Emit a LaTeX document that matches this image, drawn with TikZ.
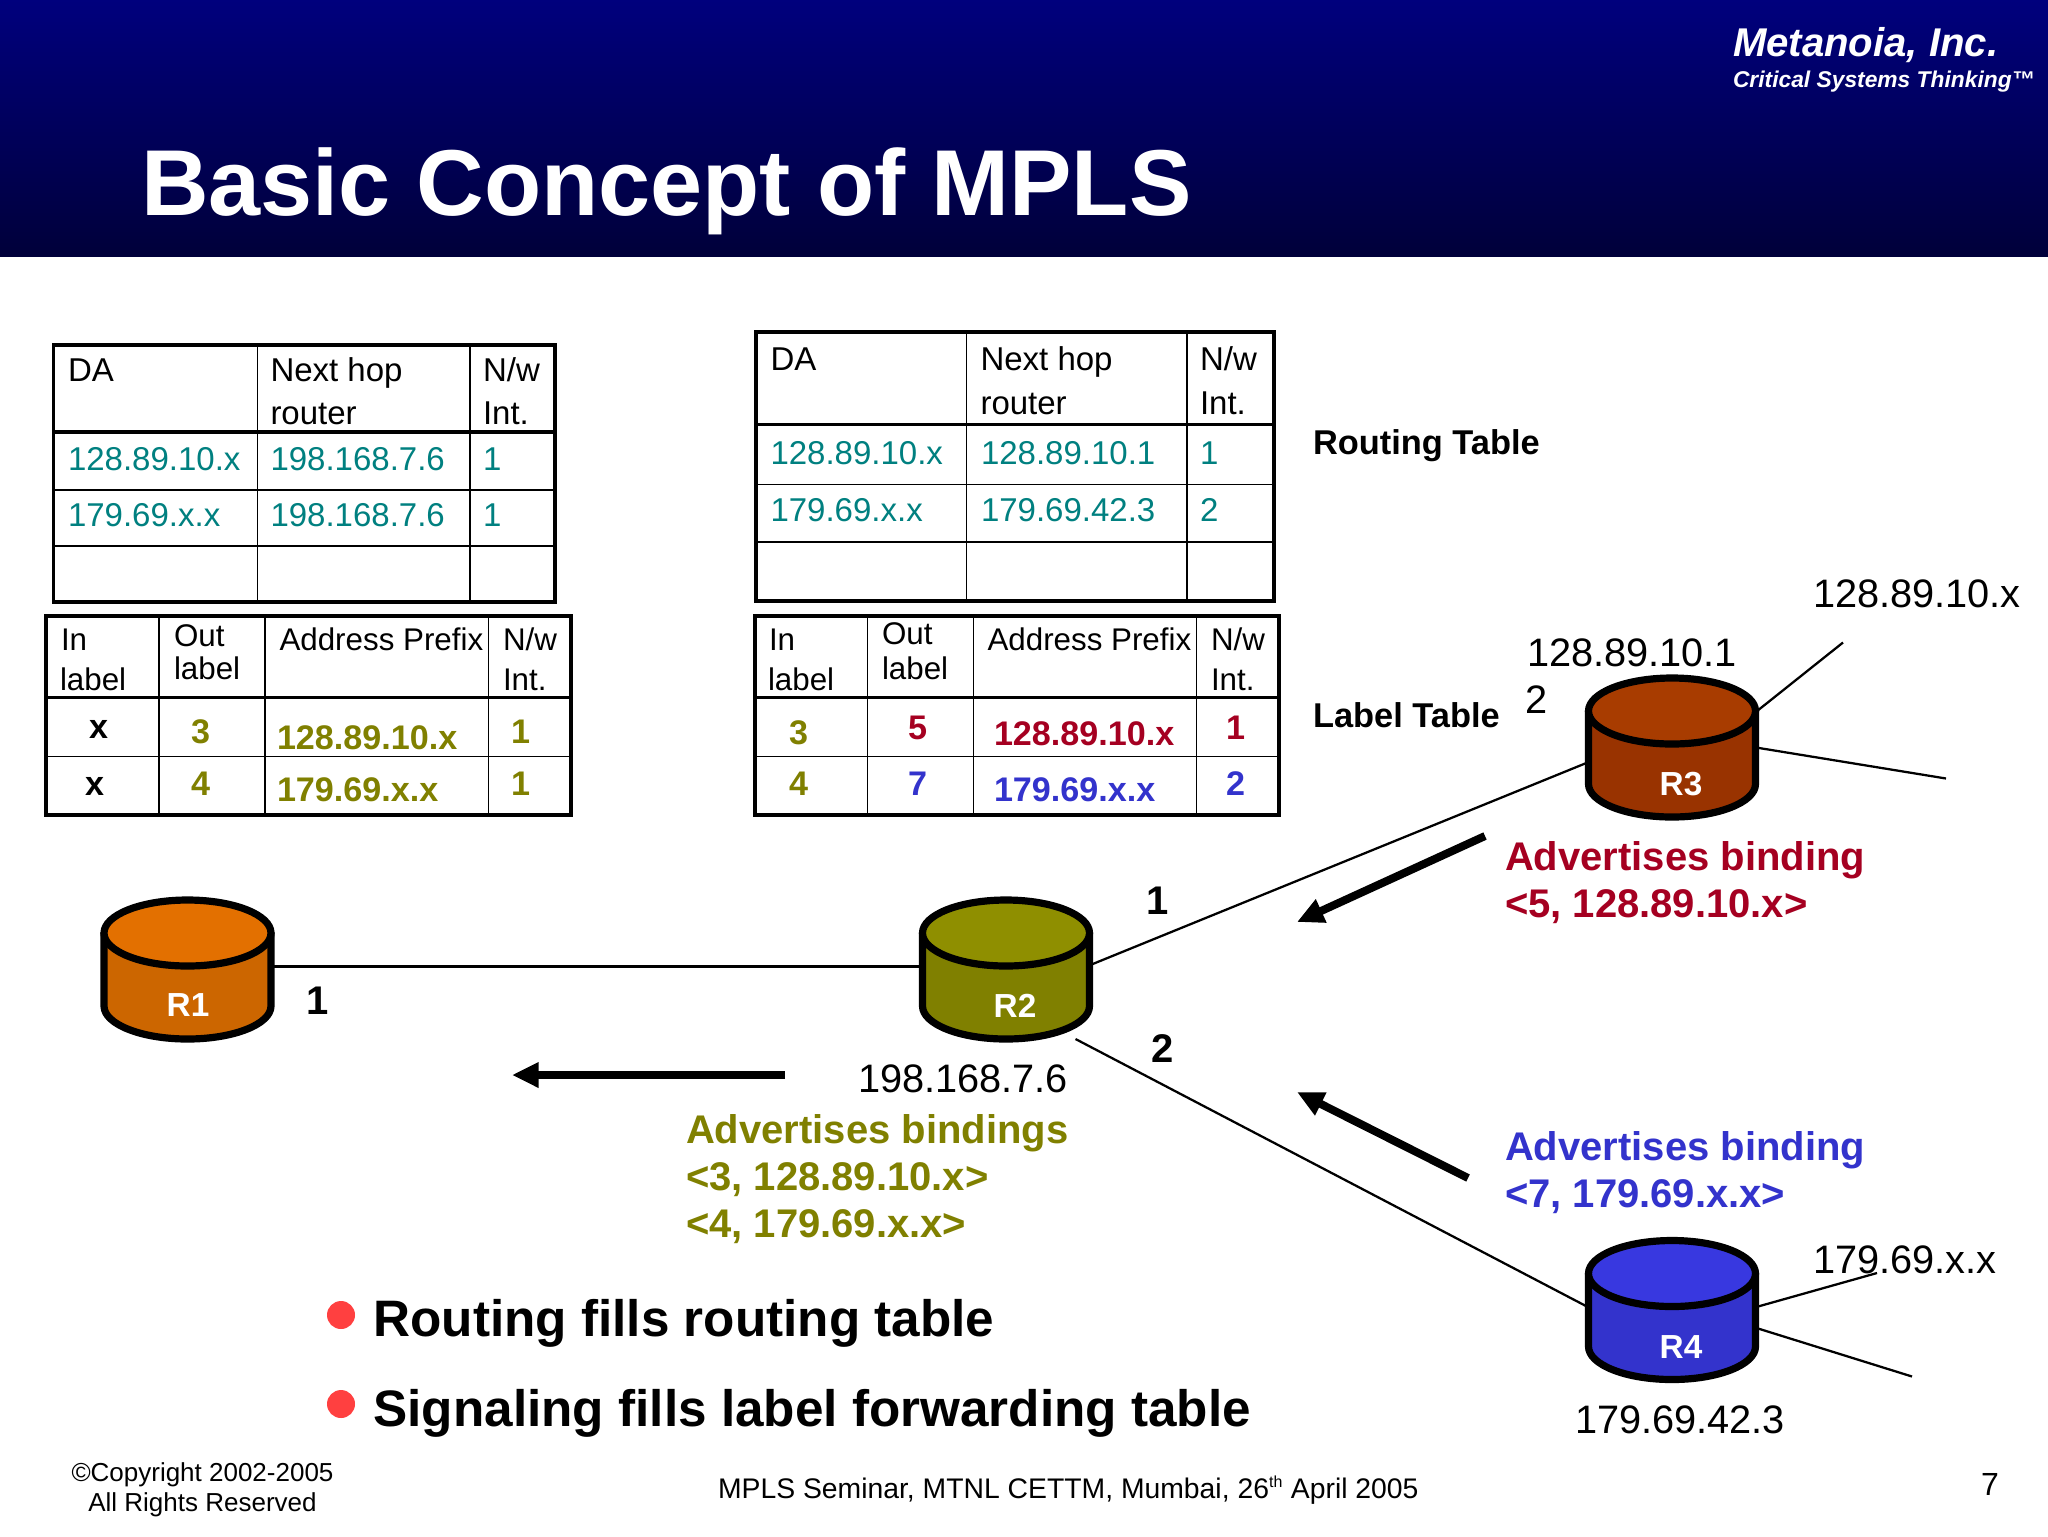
\documentclass[tikz,border=0pt]{standalone}
\usepackage{fontspec}
\setmainfont{Liberation Sans}
\usetikzlibrary{arrows.meta}
\definecolor{slideteal}{RGB}{0,128,128}
\definecolor{slideolive}{RGB}{128,128,0}
\definecolor{slidecrimson}{RGB}{165,0,33}
\definecolor{slideblue}{RGB}{51,51,204}
\definecolor{bandtop}{RGB}{0,0,125}
\definecolor{bandbottom}{RGB}{0,0,58}
\definecolor{oneside}{RGB}{204,102,0}
\definecolor{onetop}{RGB}{227,112,0}
\definecolor{twotop}{RGB}{143,143,0}
\definecolor{threeside}{RGB}{153,51,0}
\definecolor{threetop}{RGB}{168,60,0}
\definecolor{fourtop}{RGB}{56,56,224}
\definecolor{bulletred}{RGB}{255,64,64}
\newcommand{\fsz}[1]{\fontsize{#1}{#1}\selectfont}
\newcommand{\drawdrum}[3]{%
\begin{scope}[shift={(#1.center)}]
\draw [drum,fill=#2] (-83.5,-36.5) -- (-83.5,36.5) arc (180:0:83.5 and 33) -- (83.5,-36.5) -- cycle ;
\draw [drum,fill=#3] (0,-36.5) ellipse (83.5 and 33) ;
\end{scope}}
\tikzset{
  slidetext/.style={anchor=base west,inner sep=0pt,outer sep=0pt},
  tabtext/.style={slidetext,font=\fsz{24.75}},
  labtext/.style={slidetext,font=\fsz{23.5}},
  labdata/.style={slidetext,font=\fsz{25.6}\bfseries},
  addrtext/.style={slidetext,font=\fsz{29.8}},
  bindtext/.style={slidetext,font=\fsz{30}\bfseries},
  linktext/.style={anchor=base,inner sep=0pt,font=\fsz{30}\bfseries},
  routertext/.style={anchor=base,inner sep=0pt,text=white,font=\fsz{25}\bfseries},
  router/.style={inner sep=0pt,outer sep=0pt,minimum width=126pt,minimum height=104.25pt},
  drum/.style={line width=5.4pt,line join=round},
  tabframe/.style={line width=2.6pt},
  tabrule/.style={line width=1.3pt},
  tabhead/.style={line width=2.3pt},
  wire/.style={line width=1.7pt},
  flow/.style={line width=6pt,-{Triangle[length=20pt,width=18pt]}},
  dot/.style={circle,fill=bulletred,inner sep=0pt,minimum size=21pt},
}
\begin{document}
\begin{tikzpicture}[x=0.75pt,y=0.75pt,yscale=-1,xscale=1]
\path [use as bounding box,fill=white] (0,0) rectangle (2048,1536) ;

%Shape: Header band
\shade [top color=bandtop,bottom color=bandbottom] (0,0) rectangle (2048,256) ;
% Text Node
\node (title) [slidetext,text=white,font=\fsz{70.2}\bfseries] at (141,215) {Basic Concept of MPLS};
% Text Node
\node (company) [slidetext,text=white,font=\fsz{30.1}\bfseries\itshape] at (1733,56) {Metanoia, Inc.};
% Text Node
\node (motto) [slidetext,text=white,font=\fsz{17.1}\bfseries\itshape] at (1733,87.5) {Critical Systems Thinking™};

%Shape: Routing table, left
\draw [tabframe] (53.5,345) rectangle (555,602) ;
\draw [tabhead] (53.5,432) -- (555,432) ;
\draw [tabrule] (53.5,490) -- (555,490) ;
\draw [tabrule] (53.5,546) -- (555,546) ;
\draw [tabrule] (257.5,345) -- (257.5,602) ;
\draw [tabrule] (470,345) -- (470,602) ;
% Text Node
\node (ltda) [tabtext] at (68,381.5) {DA};
\node (lthop) [tabtext] at (270.5,381.5) {Next hop};
\node (ltrouter) [tabtext] at (270.5,424) {router};
\node (ltnw) [tabtext] at (483,381.5) {N/w};
\node (ltint) [tabtext] at (483,424) {Int.};
\node (ltaa) [tabtext,text=slideteal] at (68,470) {128.89.10.x};
\node (ltab) [tabtext,text=slideteal] at (270.5,470) {198.168.7.6};
\node (ltac) [tabtext,text=slideteal] at (483,470) {1};
\node (ltba) [tabtext,text=slideteal] at (68,526) {179.69.x.x};
\node (ltbb) [tabtext,text=slideteal] at (270.5,526) {198.168.7.6};
\node (ltbc) [tabtext,text=slideteal] at (483,526) {1};

%Shape: Routing table, right
\draw [tabframe] (756,332) rectangle (1274,601) ;
\draw [tabhead] (756,424.5) -- (1274,424.5) ;
\draw [tabrule] (756,484.5) -- (1274,484.5) ;
\draw [tabrule] (756,542) -- (1274,542) ;
\draw [tabrule] (966.5,332) -- (966.5,601) ;
\draw [tabrule] (1187,332) -- (1187,601) ;
% Text Node
\node (rtda) [tabtext] at (770.5,370.5) {DA};
\node (rthop) [tabtext] at (980.5,370.5) {Next hop};
\node (rtrouter) [tabtext] at (980.5,414) {router};
\node (rtnw) [tabtext] at (1200,370.5) {N/w};
\node (rtint) [tabtext] at (1200,414) {Int.};
\node (rtaa) [tabtext,text=slideteal] at (770.5,464) {128.89.10.x};
\node (rtab) [tabtext,text=slideteal] at (981,464) {128.89.10.1};
\node (rtac) [tabtext,text=slideteal] at (1200,464) {1};
\node (rtba) [tabtext,text=slideteal] at (770.5,521) {179.69.x.x};
\node (rtbb) [tabtext,text=slideteal] at (981,521) {179.69.42.3};
\node (rtbc) [tabtext,text=slideteal] at (1200,521) {2};

%Shape: Label table, left
\draw [tabframe] (46,616) rectangle (571,815) ;
\draw [tabhead] (46,697.5) -- (571,697.5) ;
\draw [tabrule] (46,756.5) -- (571,756.5) ;
\draw [tabrule] (159,616) -- (159,815) ;
\draw [tabrule] (265,616) -- (265,815) ;
\draw [tabrule] (488.5,616) -- (488.5,815) ;
% Text Node
\node (lbin) [labtext] at (61,650.5) {In};
\node (lbinl) [labtext] at (60,690) {label};
\node (lbout) [labtext] at (174,646) {Out};
\node (lboutl) [labtext] at (174,679) {label};
\node (lbaddr) [labtext] at (279.5,650.5) {Address Prefix};
\node (lbnw) [labtext] at (503,650.5) {N/w};
\node (lbint) [labtext] at (503,690) {Int.};
\node (lbaa) [labdata] at (89,738) {x};
\node (lbab) [labdata,text=slideolive] at (191,743) {3};
\node (lbac) [labdata,text=slideolive] at (277,749) {128.89.10.x};
\node (lbad) [labdata,text=slideolive] at (511,743) {1};
\node (lbba) [labdata] at (85,795) {x};
\node (lbbb) [labdata,text=slideolive] at (191,795) {4};
\node (lbbc) [labdata,text=slideolive] at (277,801) {179.69.x.x};
\node (lbbd) [labdata,text=slideolive] at (511,795) {1};

%Shape: Label table, right
\draw [tabframe] (755,616) rectangle (1279,815) ;
\draw [tabhead] (755,697.5) -- (1279,697.5) ;
\draw [tabrule] (755,756.5) -- (1279,756.5) ;
\draw [tabrule] (867.5,616) -- (867.5,815) ;
\draw [tabrule] (973.5,616) -- (973.5,815) ;
\draw [tabrule] (1196.5,616) -- (1196.5,815) ;
% Text Node
\node (rbin) [labtext] at (769,650.5) {In};
\node (rbinl) [labtext] at (768,690) {label};
\node (rbout) [labtext] at (882,644) {Out};
\node (rboutl) [labtext] at (882,679) {label};
\node (rbaddr) [labtext] at (987.5,650.5) {Address Prefix};
\node (rbnw) [labtext] at (1211,650.5) {N/w};
\node (rbint) [labtext] at (1211,690) {Int.};
\node (rbaa) [labdata,text=slideolive] at (789,744) {3};
\node (rbab) [labdata,text=slidecrimson] at (908,739) {5};
\node (rbac) [labdata,text=slidecrimson] at (994,745) {128.89.10.x};
\node (rbad) [labdata,text=slidecrimson] at (1226,739) {1};
\node (rbba) [labdata,text=slideolive] at (789,795) {4};
\node (rbbb) [labdata,text=slideblue] at (908,795) {7};
\node (rbbc) [labdata,text=slideblue] at (994,801) {179.69.x.x};
\node (rbbd) [labdata,text=slideblue] at (1226,795) {2};

% Text Node
\node (routingcap) [slidetext,font=\fsz{25.8}\bfseries] at (1313,454) {Routing Table};
\node (labelcap) [slidetext,font=\fsz{25.8}\bfseries] at (1313,727) {Label Table};

%Shape: Routers
\node (R1) [router] at (187.5,969.5) {};
\node (R2) [router] at (1006,969.5) {};
\node (R3) [router] at (1672,747.5) {};
\node (R4) [router] at (1672,1310) {};
\coordinate (R3up) at (1843,642.5);
\coordinate (R3down) at (1946,778.5);
\coordinate (R4up) at (1877,1273);
\coordinate (R4down) at (1912,1376.5);

%Straight Lines
\draw [wire] (R1.2) -- (R2.178) ;
\draw [wire] (R2.3) -- (R3.190) ;
\draw [wire] (R2.-45) -- (R4.178) ;
\draw [wire] (R3.23) -- (R3up) ;
\draw [wire] (R3.east) -- (R3down) ;
\draw [wire] (R4.2) -- (R4up) ;
\draw [wire] (R4.-12) -- (R4down) ;

\drawdrum{R1}{oneside}{onetop}
\drawdrum{R2}{slideolive}{twotop}
\drawdrum{R3}{threeside}{threetop}
\drawdrum{R4}{slideblue}{fourtop}

% Text Node
\node (R1name) [routertext] at (188,1016) {R1};
\node (R2name) [routertext] at (1015,1017) {R2};
\node (R3name) [routertext] at (1681,795) {R3};
\node (R4name) [routertext] at (1681,1358) {R4};

%Straight Lines [thick flow arrows]
\coordinate (flowAs) at (1485,836);
\coordinate (flowAe) at (1297,922);
\coordinate (flowBs) at (1468,1178);
\coordinate (flowBe) at (1297,1092);
\coordinate (flowCs) at (785,1075);
\coordinate (flowCe) at (512,1075);
\draw [flow] (flowAs) -- (flowAe) ;
\draw [flow] (flowBs) -- (flowBe) ;
\draw [flow] (flowCs) -- (flowCe) ;

% Text Node
\node (net3) [addrtext] at (1813,607) {128.89.10.x};
\node (addr3) [addrtext] at (1527,666) {128.89.10.1};
\node (addr3b) [addrtext] at (1525,713) {2};
\node (net4) [addrtext] at (1813,1273) {179.69.x.x};
\node (addr4) [addrtext] at (1575,1433) {179.69.42.3};
\node (addr2) [addrtext] at (858,1092) {198.168.7.6};
\node (if1) [linktext] at (318,1014) {1};
\node (if2a) [linktext] at (1157.5,914) {1};
\node (if2b) [linktext] at (1163,1062) {2};
\node (adv3a) [bindtext,text=slidecrimson] at (1505,870) {Advertises binding};
\node (adv3b) [bindtext,text=slidecrimson] at (1505,917) {<5, 128.89.10.x>};
\node (adv2a) [bindtext,text=slideolive] at (686,1143) {Advertises bindings};
\node (adv2b) [bindtext,text=slideolive] at (686,1190) {<3, 128.89.10.x>};
\node (adv2c) [bindtext,text=slideolive] at (686,1237) {<4, 179.69.x.x>};
\node (adv4a) [bindtext,text=slideblue] at (1505,1160) {Advertises binding};
\node (adv4b) [bindtext,text=slideblue] at (1505,1207) {<7, 179.69.x.x>};

%Shape: Bullets
\node (dotA) [dot] at (341,1315) {};
\node (dotB) [dot] at (341,1404) {};
% Text Node
\node (pointA) [slidetext,font=\fsz{38.45}\bfseries] at (373.5,1336) {Routing fills routing table};
\node (pointB) [slidetext,font=\fsz{38.45}\bfseries] at (373.5,1426) {Signaling fills label forwarding table};

% Text Node
\node (copyA) [anchor=base,inner sep=0pt,font=\fsz{19.5}] at (202.5,1481) {©Copyright 2002-2005};
\node (copyB) [anchor=base,inner sep=0pt,font=\fsz{19.5}] at (202.5,1511) {All Rights Reserved};
\node (seminar) [slidetext,font=\fsz{21.25}] at (718,1498) {MPLS Seminar, MTNL CETTM, Mumbai, 26\textsuperscript{\fsz{12}th} April 2005};
\node (pageno) [slidetext,font=\fsz{24}] at (1981,1495) {7};
\end{tikzpicture}
\end{document}
